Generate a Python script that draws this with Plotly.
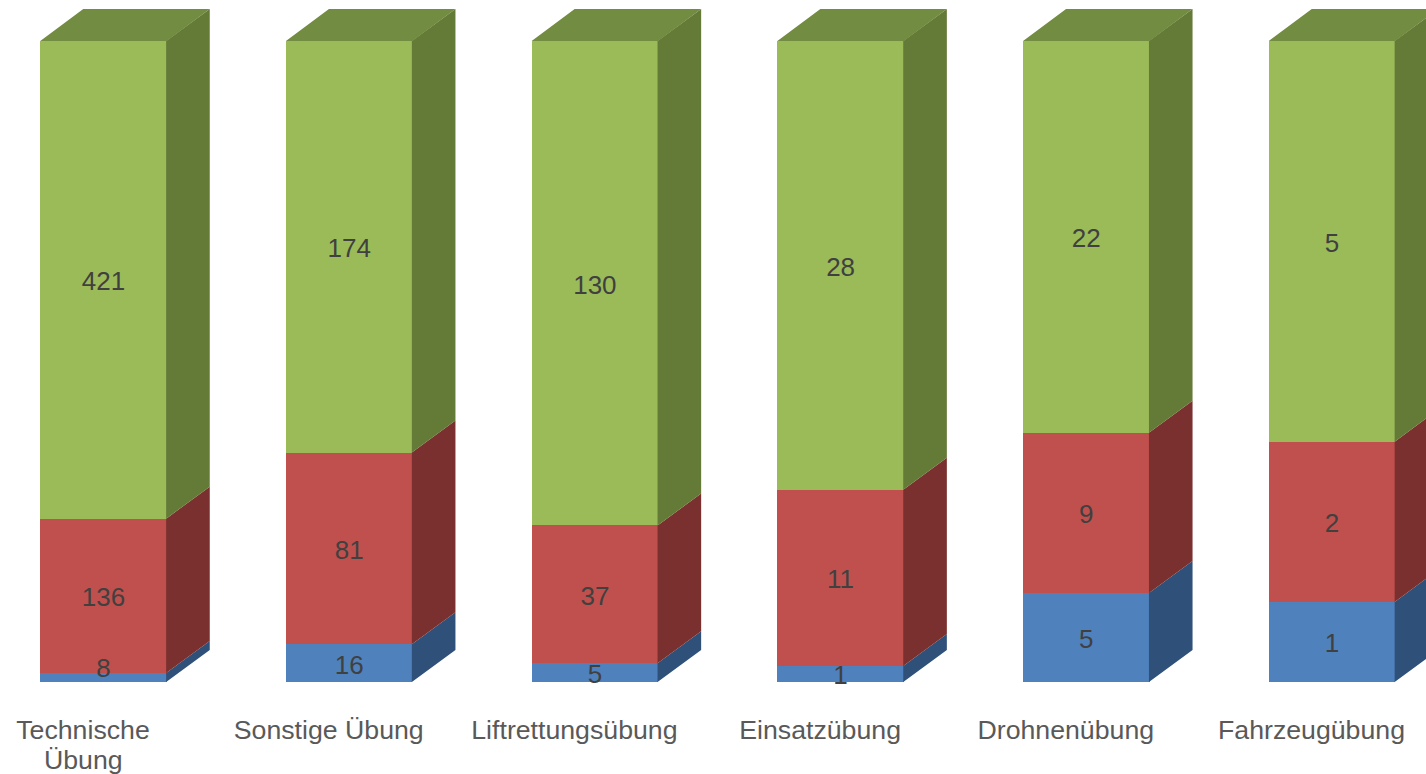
import plotly.graph_objects as go

categories = ["Technische Übung", "Sonstige Übung", "Liftrettungsübung", "Einsatzübung", "Drohnenübung", "Fahrzeugübung"]
tick_labels = ["Technische", "Sonstige Übung", "Liftrettungsübung", "Einsatzübung", "Drohnenübung", "Fahrzeugübung"]
wrapped_line = "Übung"
series_1 = [8, 16, 5, 1, 5, 1]
series_2 = [136, 81, 37, 11, 9, 2]
series_3 = [421, 174, 130, 28, 22, 5]

W, H = 1426, 774
PLOT_H = 682
PX_PER_CAT = 245.7
PX_PER_PCT = 6.41
X0_PX = 103.5
BAR_W = 126.5 / PX_PER_CAT
DX = 43 / PX_PER_CAT
DY = 32 / PX_PER_PCT
SEAM = 0.6 / PX_PER_CAT
TICK_SHIFT = -20.5 / PX_PER_CAT
LABEL_DROP = 4 / PX_PER_PCT

front = ["#4F81BD", "#C0504D", "#9BBB59"]
side = ["#2F5078", "#7A302E", "#647A37"]
top_col = "#728C41"
names = ["Serie 1", "Serie 2", "Serie 3"]
all_series = [series_1, series_2, series_3]
xs = list(range(len(categories)))
totals = [sum(s[i] for s in all_series) for i in xs]
FONT = "Liberation Sans, Arial, sans-serif"

fig = go.Figure()
label_x, label_y, label_text = [], [], []
cum = [0.0] * len(xs)
for k, s in enumerate(all_series):
    fig.add_bar(x=xs, y=s, name=names[k], width=BAR_W, marker=dict(color=front[k], line_width=0),
                hoverinfo="skip", showlegend=False)
    px, py = [], []
    for i in xs:
        lo = cum[i]
        hi = lo + 100 * s[i] / totals[i]
        xr = i + BAR_W / 2
        xs_left = xr - SEAM
        px += [xs_left, xr + DX, xr + DX, xs_left, xs_left, None]
        py += [lo, lo + DY, hi + DY, hi, lo, None]
        nudge = 11 if s[i] == 8 else 0
        label_x.append(i)
        label_y.append((lo + hi) / 2 - LABEL_DROP + nudge / PX_PER_PCT)
        label_text.append(str(s[i]))
        cum[i] = hi
    fig.add_scatter(x=px, y=py, mode="lines", fill="toself", fillcolor=side[k],
                    line=dict(width=0, color=side[k]), hoverinfo="skip", showlegend=False)

tx, ty = [], []
for i in xs:
    xl, xr = i - BAR_W / 2, i + BAR_W / 2
    tx += [xl, xl + DX, xr + DX, xr, xl, None]
    ty += [100, 100 + DY, 100 + DY, 100, 100, None]
fig.add_scatter(x=tx, y=ty, mode="lines", fill="toself", fillcolor=top_col,
                line=dict(width=0, color=top_col), hoverinfo="skip", showlegend=False)

fig.add_scatter(x=label_x, y=label_y, text=label_text, mode="text", textposition="middle center",
                textfont=dict(family=FONT, size=26, color="#404040"),
                hoverinfo="skip", showlegend=False, cliponaxis=False)

fig.add_annotation(x=0 + TICK_SHIFT, xref="x", y=-(760 - PLOT_H) / PLOT_H, yref="paper", text=wrapped_line,
                   showarrow=False, xanchor="center", yanchor="middle",
                   font=dict(family=FONT, size=26.7, color="#595959"))

fig.update_layout(
    width=W, height=H, barmode="stack", barnorm="percent",
    margin=dict(l=0, r=0, t=0, b=H - PLOT_H, pad=0, autoexpand=False),
    paper_bgcolor="white", plot_bgcolor="white", showlegend=False,
    xaxis=dict(range=[(0 - X0_PX) / PX_PER_CAT, (W - X0_PX) / PX_PER_CAT], showgrid=False, zeroline=False,
               showline=False, ticks="", tickmode="array", tickvals=[i + TICK_SHIFT for i in xs],
               ticktext=tick_labels, ticklabelstandoff=29, automargin=False,
               tickfont=dict(family=FONT, size=26.7, color="#595959")),
    yaxis=dict(range=[0, PLOT_H / PX_PER_PCT], visible=False, showgrid=False, zeroline=False, automargin=False),
)
fig.write_html("out.html", config=dict(displayModeBar=False),
               post_script="document.body.style.margin='0';document.documentElement.style.overflow='hidden';")
